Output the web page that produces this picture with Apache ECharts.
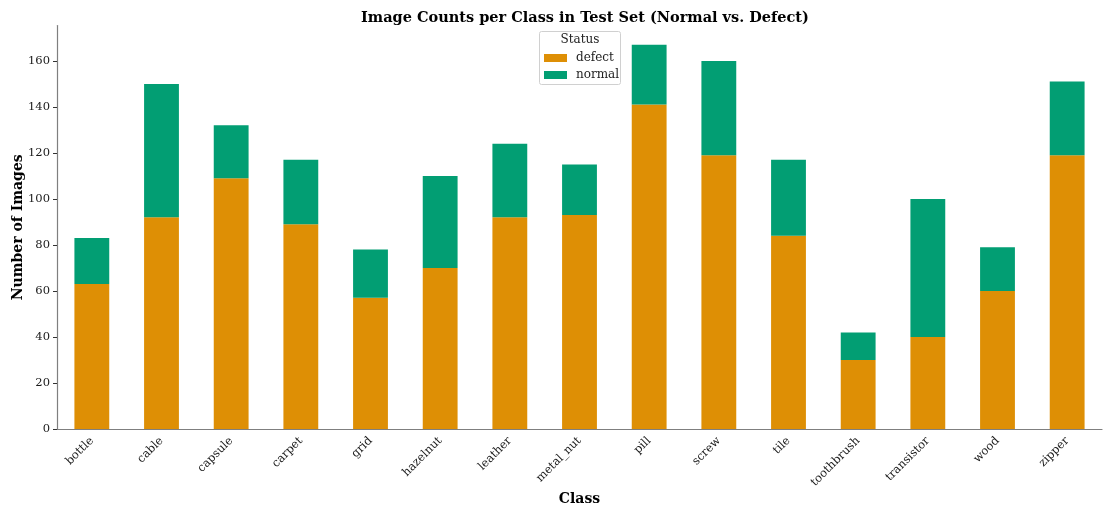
<!DOCTYPE html>
<html><head><meta charset="utf-8">
<script src="https://cdn.jsdelivr.net/npm/echarts@6/dist/echarts.min.js"></script>
<style>html,body{margin:0;padding:0;background:#fff}#c{width:1103px;height:512px}</style>
</head><body><div id="c"></div>
<script>
const categories = ['bottle','cable','capsule','carpet','grid','hazelnut','leather','metal_nut','pill','screw','tile','toothbrush','transistor','wood','zipper'];
const defectCounts = [63,92,109,89,57,70,92,93,141,119,84,30,40,60,119];
const normalCounts = [20,58,23,28,21,40,32,22,26,41,33,12,60,19,32];
const yTicks = [0,20,40,60,80,100,120,140,160];

const F = 'DejaVu Serif';
const chart = echarts.init(document.getElementById('c'));
chart.setOption({
  animation:false,
  textStyle:{fontFamily:F},
  title:{text:'Image Counts per Class in Test Set (Normal vs. Defect)',left:580,textAlign:'center',top:6,
    textStyle:{fontFamily:F,fontWeight:'bold',fontSize:14.5,color:'#000'}},
  grid:{left:57,right:1,top:25.6,bottom:83,outerBoundsMode:'none',containLabel:false},
  legend:{orient:'vertical',left:539,top:47,itemWidth:23,itemHeight:8,itemGap:5,icon:'rect',
    data:['defect','normal'],textStyle:{fontFamily:F,fontSize:12,color:'#222',padding:[0,0,0,4]}},
  graphic:[
    {type:'rect',shape:{x:539.5,y:31.5,width:81,height:53,r:2},style:{fill:'rgba(255,255,255,0.8)',stroke:'#d0d0d0',lineWidth:1},z:-1},
    {type:'text',x:580,y:34,style:{text:'Status',fontFamily:F,fontSize:12,fill:'#222',align:'center'}}
  ],
  xAxis:{type:'category',data:categories,name:'Class',nameLocation:'middle',nameGap:63,nameMoveOverlap:false,
    nameTextStyle:{fontFamily:F,fontWeight:'bold',fontSize:14,color:'#000'},
    axisLine:{lineStyle:{color:'#7f7f7f',width:1.2}},
    axisTick:{alignWithLabel:true,length:4,lineStyle:{color:'#333'}},
    axisLabel:{rotate:45,fontFamily:F,fontSize:11.5,color:'#1a1a1a',margin:10,interval:0}},
  yAxis:{type:'value',min:0,max:175.35,interval:20,name:'Number of Images',nameLocation:'middle',nameGap:32,nameMoveOverlap:false,
    nameTextStyle:{fontFamily:F,fontWeight:'bold',fontSize:14,color:'#000'},
    splitLine:{show:false},
    axisLine:{show:true,lineStyle:{color:'#7f7f7f',width:1.2}},
    axisTick:{show:true,length:4,lineStyle:{color:'#333'},customValues:yTicks},
    axisLabel:{fontFamily:F,fontSize:11.5,color:'#1a1a1a',margin:7,customValues:yTicks}},
  series:[
    {name:'defect',type:'bar',stack:'s',data:defectCounts,barWidth:'50%',itemStyle:{color:'#DE8F05'}},
    {name:'normal',type:'bar',stack:'s',data:normalCounts,barWidth:'50%',itemStyle:{color:'#029E73'}}
  ]
});
</script></body></html>
